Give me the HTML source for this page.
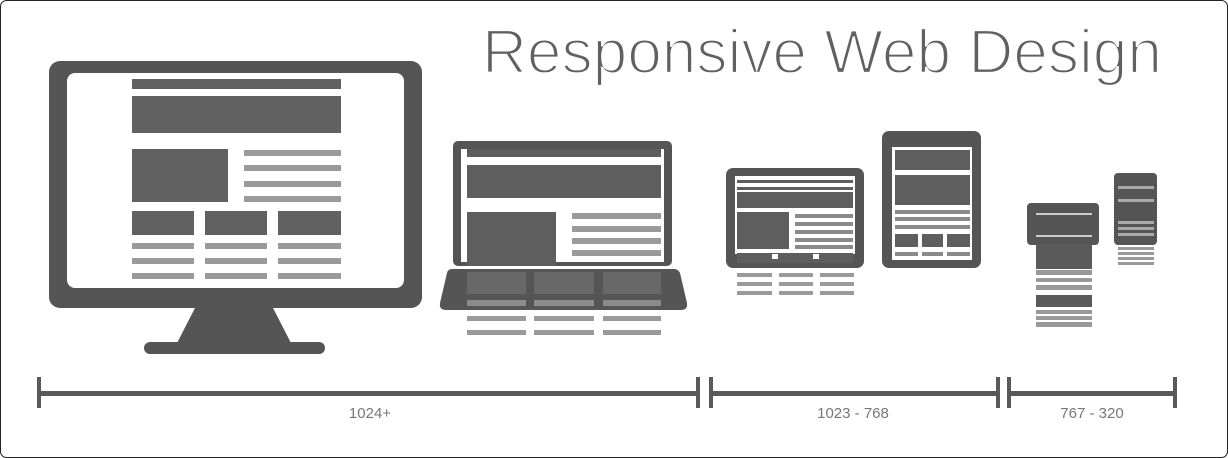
<!DOCTYPE html>
<html><head><meta charset="utf-8"><style>
html,body{margin:0;padding:0;background:#fff;}
svg{display:block;}
</style></head><body>
<svg width="1228" height="458" viewBox="0 0 1228 458" xmlns="http://www.w3.org/2000/svg" font-family="Liberation Sans, sans-serif">
<rect x="0.5" y="0.5" width="1227" height="457" rx="6" fill="#fff" stroke="#222" stroke-width="1"/>
<text x="482" y="73" font-size="62" fill="#606060" stroke="#fff" stroke-width="2.2" textLength="680" lengthAdjust="spacingAndGlyphs" style="font-weight:normal;paint-order:fill stroke">Responsive Web Design</text>

<!-- Monitor -->
<g fill="#555">
<rect x="49" y="61" width="373" height="247" rx="11"/>
<polygon points="196,306 272,306 292,345 176,345"/>
<rect x="144" y="342" width="181" height="12" rx="6"/>
</g>
<rect x="67" y="73" width="337" height="215" rx="8" fill="#fff"/>
<g fill="#616161">
<rect x="132" y="79" width="209" height="10"/>
<rect x="132" y="96" width="209" height="37"/>
<rect x="132" y="149" width="96" height="53"/>
<rect x="132" y="211" width="62" height="24"/>
<rect x="205" y="211" width="62" height="24"/>
<rect x="278" y="211" width="63" height="24"/>
</g>
<g fill="#9a9a9a">
<rect x="244" y="150" width="97" height="6"/><rect x="244" y="165" width="97" height="6"/>
<rect x="244" y="181" width="97" height="6"/><rect x="244" y="196" width="97" height="6"/>
<rect x="132" y="243" width="62" height="6"/><rect x="205" y="243" width="62" height="6"/><rect x="278" y="243" width="63" height="6"/>
<rect x="132" y="258" width="62" height="6"/><rect x="205" y="258" width="62" height="6"/><rect x="278" y="258" width="63" height="6"/>
<rect x="132" y="273" width="62" height="6"/><rect x="205" y="273" width="62" height="6"/><rect x="278" y="273" width="63" height="6"/>
</g>

<!-- Laptop -->
<rect x="453" y="141" width="219" height="125" rx="5" fill="#555"/>
<rect x="461" y="149" width="203" height="113" fill="#fff"/>
<g fill="#5e5e5e">
<rect x="467" y="149" width="194" height="8"/>
<rect x="467" y="165" width="194" height="33"/>
<rect x="467" y="212" width="89" height="54"/>
</g>
<g fill="#9a9a9a">
<rect x="572" y="213" width="89" height="6"/><rect x="572" y="226" width="89" height="6"/>
<rect x="572" y="238" width="89" height="6"/><rect x="572" y="250" width="89" height="6"/>
</g>
<path d="M452,269 L674,269 Q678,269 680,273 L687,303 Q688,310 681,310 L446,310 Q439,310 440,303 L447,273 Q448,269 452,269 Z" fill="#555"/>
<g fill="#686868">
<rect x="467" y="272" width="59" height="22"/><rect x="534" y="272" width="60" height="22"/><rect x="603" y="272" width="58" height="22"/>
</g>
<g fill="#8c8c8c">
<rect x="467" y="300" width="59" height="6"/><rect x="534" y="300" width="60" height="6"/><rect x="603" y="300" width="58" height="6"/>
</g>
<g fill="#9a9a9a">
<rect x="467" y="316" width="59" height="5"/><rect x="534" y="316" width="60" height="5"/><rect x="603" y="316" width="58" height="5"/>
<rect x="467" y="330" width="59" height="5"/><rect x="534" y="330" width="60" height="5"/><rect x="603" y="330" width="58" height="5"/>
</g>

<!-- Tablet landscape -->
<rect x="726" y="168" width="138" height="100" rx="7" fill="#555"/>
<rect x="735" y="176" width="120" height="78" fill="#fff"/>
<g fill="#5e5e5e">
<rect x="737" y="180" width="116" height="3"/>
<rect x="737" y="187" width="116" height="3"/>
<rect x="737" y="192" width="116" height="16"/>
<rect x="737" y="212" width="52" height="37"/>
<rect x="737" y="253" width="116" height="10"/>
</g>
<g fill="#8a8a8a">
<rect x="795" y="214" width="58" height="4"/><rect x="795" y="222" width="58" height="4"/>
<rect x="795" y="230" width="58" height="4"/><rect x="795" y="238" width="58" height="4"/><rect x="795" y="245" width="58" height="4"/>
</g>
<rect x="772" y="254" width="6" height="5" fill="#fff"/><rect x="813" y="254" width="6" height="5" fill="#fff"/>
<g fill="#9a9a9a">
<rect x="737" y="273" width="35" height="4"/><rect x="779" y="273" width="34" height="4"/><rect x="820" y="273" width="34" height="4"/>
<rect x="737" y="282" width="35" height="4"/><rect x="779" y="282" width="34" height="4"/><rect x="820" y="282" width="34" height="4"/>
<rect x="737" y="291" width="35" height="4"/><rect x="779" y="291" width="34" height="4"/><rect x="820" y="291" width="34" height="4"/>
</g>

<!-- Tablet portrait -->
<rect x="882" y="131" width="99" height="137" rx="7" fill="#555"/>
<rect x="892" y="147" width="80" height="113" fill="#fff"/>
<g fill="#5e5e5e">
<rect x="895" y="150" width="75" height="20"/>
<rect x="895" y="175" width="75" height="30"/>
<rect x="895" y="234" width="23" height="13"/><rect x="922" y="234" width="21" height="13"/><rect x="947" y="234" width="23" height="13"/>
</g>
<g fill="#8a8a8a">
<rect x="895" y="210" width="75" height="4"/><rect x="895" y="217" width="75" height="4"/><rect x="895" y="225" width="75" height="4"/>
<rect x="895" y="252" width="23" height="4"/><rect x="922" y="252" width="21" height="4"/><rect x="947" y="252" width="23" height="4"/>
</g>

<!-- Phone landscape -->
<rect x="1027" y="203" width="72" height="42" rx="4" fill="#555"/>
<rect x="1036" y="244" width="56" height="25" fill="#5a5a5a"/>
<rect x="1036" y="213" width="56" height="2" fill="#ccc"/>
<rect x="1036" y="235" width="56" height="2" fill="#ccc"/>
<g fill="#999">
<rect x="1036" y="270" width="56" height="5"/><rect x="1036" y="278" width="56" height="4"/><rect x="1036" y="285" width="56" height="5"/>
<rect x="1036" y="310" width="56" height="4"/><rect x="1036" y="316" width="56" height="4"/><rect x="1036" y="322" width="56" height="5"/>
</g>
<rect x="1036" y="295" width="56" height="12" fill="#5a5a5a"/>

<!-- Phone portrait -->
<rect x="1114" y="173" width="43" height="72" rx="4" fill="#555"/>
<g fill="#aaa">
<rect x="1118" y="186" width="36" height="3"/><rect x="1118" y="199" width="36" height="3"/>
<rect x="1118" y="221" width="36" height="3"/><rect x="1118" y="227" width="36" height="3"/><rect x="1118" y="233" width="36" height="3"/>
</g>
<g fill="#9a9a9a">
<rect x="1118" y="247" width="36" height="3"/><rect x="1118" y="252" width="36" height="3"/>
<rect x="1118" y="257" width="36" height="3"/><rect x="1118" y="262" width="36" height="3"/>
</g>

<!-- Axis -->
<g fill="#5a5a5a">
<rect x="38" y="391" width="660" height="5"/>
<rect x="711" y="391" width="287" height="5"/>
<rect x="1009" y="391" width="166" height="5"/>
<rect x="37" y="377" width="4" height="31"/>
<rect x="696" y="377" width="4" height="31"/>
<rect x="709" y="377" width="4" height="31"/>
<rect x="996" y="377" width="4" height="31"/>
<rect x="1007" y="377" width="4" height="31"/>
<rect x="1173" y="377" width="4" height="31"/>
</g>
<g font-size="15" fill="#777" text-anchor="middle">
<text x="370" y="418">1024+</text>
<text x="853" y="418">1023 - 768</text>
<text x="1092" y="418">767 - 320</text>
</g>
</svg>
</body></html>
